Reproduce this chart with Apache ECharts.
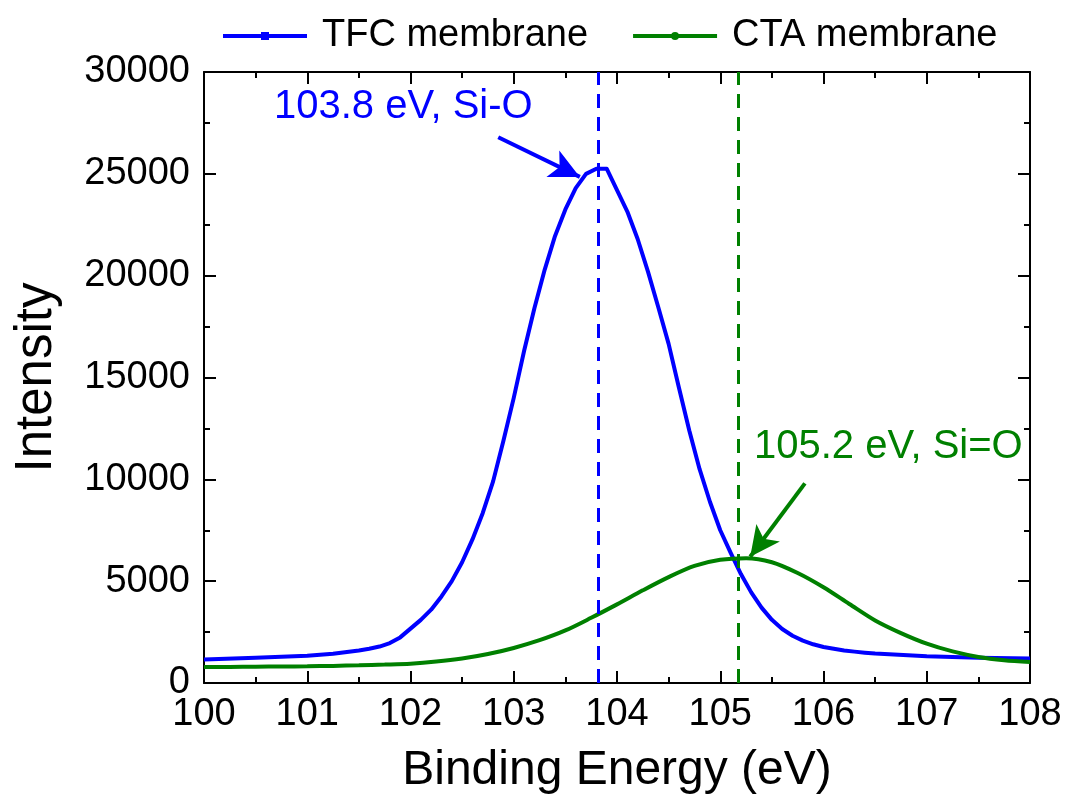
<!DOCTYPE html>
<html lang="en">
<head>
    <meta charset="UTF-8">
    <title>XPS Si 2p</title>
    <script src="https://cdn.jsdelivr.net/npm/echarts@6/dist/echarts.min.js"></script>
    <style>
        *{ padding: 0; margin: 0; }
        #main{ width: 1067px; height: 801px; background: #fff; }
    </style>
</head>
<body>
<div id="main"></div>
<script>
    // binding energy (eV) / intensity
    var tfcX = [100, 100.5, 101, 101.25, 101.5, 101.6, 101.7, 101.8, 101.9, 102, 102.1, 102.2, 102.3, 102.4, 102.5, 102.6, 102.7, 102.8, 102.9, 103, 103.1, 103.2, 103.3, 103.4, 103.5, 103.6, 103.7, 103.8, 103.9, 104, 104.1, 104.2, 104.3, 104.4, 104.5, 104.6, 104.7, 104.8, 104.9, 105, 105.1, 105.2, 105.3, 105.4, 105.5, 105.6, 105.7, 105.8, 105.9, 106, 106.1, 106.2, 106.3, 106.4, 106.5, 107, 107.5, 108];
    var tfcY = [1150, 1240, 1340, 1440, 1600, 1680, 1790, 1960, 2240, 2670, 3100, 3600, 4250, 5000, 5930, 7050, 8350, 9900, 11900, 14000, 16300, 18400, 20300, 21950, 23250, 24300, 25000, 25250, 25250, 24200, 23150, 21800, 20200, 18450, 16650, 14500, 12400, 10500, 8900, 7500, 6400, 5350, 4450, 3700, 3100, 2650, 2320, 2080, 1900, 1770, 1680, 1600, 1540, 1490, 1450, 1310, 1245, 1200];
    var ctaX = [100, 100.25, 100.5, 100.75, 101, 101.25, 101.5, 101.75, 102, 102.25, 102.5, 102.75, 103, 103.25, 103.5, 103.75, 104, 104.25, 104.5, 104.75, 105, 105.25, 105.5, 105.75, 106, 106.25, 106.5, 106.75, 107, 107.25, 107.5, 107.75, 108];
    var ctaY = [785, 790, 800, 810, 820, 840, 870, 905, 950, 1050, 1200, 1420, 1720, 2100, 2580, 3200, 3860, 4550, 5200, 5750, 6050, 6130, 5930, 5400, 4700, 3880, 3070, 2450, 1930, 1550, 1280, 1120, 1030];
    var peakLines = [103.82, 105.17];
    var peakLabels = ['103.8 eV, Si-O', '105.2 eV, Si=O'];
    var xTicks = [100, 101, 102, 103, 104, 105, 106, 107, 108];
    var yTicks = [0, 5000, 10000, 15000, 20000, 25000, 30000];

    function pairs(xs, ys) {
        return xs.map(function (x, i) { return [x, ys[i]]; });
    }

    var FONT = 'Liberation Sans';
    var chart = echarts.init(document.getElementById('main'));

    var frameAxis = {
        axisLine: { show: true, onZero: false, lineStyle: { color: '#000', width: 2 } },
        axisTick: { show: true, inside: true, length: 12, lineStyle: { color: '#000', width: 2 } },
        minorTick: { show: true, splitNumber: 2, length: 6, lineStyle: { color: '#000', width: 2 } },
        splitLine: { show: false }
    };

    chart.setOption({
        backgroundColor: '#ffffff',
        animation: false,
        legend: {
            top: 12,
            left: 216,
            itemWidth: 84,
            itemHeight: 10,
            itemGap: 43,
            lineStyle: { width: 4 },
            textStyle: { fontSize: 38, color: '#000', fontFamily: FONT, padding: [0, 0, 0, 10] },
            data: ['TFC membrane', 'CTA membrane']
        },
        grid: { left: 204, right: 37, top: 72, bottom: 118, containLabel: false, outerBoundsMode: 'none' },
        xAxis: [
            Object.assign({
                type: 'value', min: xTicks[0], max: xTicks[xTicks.length - 1], interval: 1,
                name: 'Binding Energy (eV)', nameLocation: 'middle', nameGap: 64,
                nameTextStyle: { fontSize: 48, color: '#000', fontFamily: FONT },
                axisLabel: { fontSize: 38, color: '#000', margin: 13, fontFamily: FONT }
            }, frameAxis),
            Object.assign({
                type: 'value', position: 'top', min: 100, max: 108, interval: 1,
                axisLabel: { show: false }
            }, frameAxis)
        ],
        yAxis: [
            Object.assign({
                type: 'value', min: yTicks[0], max: yTicks[yTicks.length - 1], interval: 5000,
                name: 'Intensity', nameLocation: 'middle', nameGap: 142,
                nameTextStyle: { fontSize: 51, color: '#000', fontFamily: FONT },
                axisLabel: {
                    fontSize: 38, color: '#000', margin: 14, fontFamily: FONT,
                    formatter: function (v) { return String(v); }
                }
            }, frameAxis),
            Object.assign({
                type: 'value', position: 'right', min: 0, max: 30000, interval: 5000,
                axisLabel: { show: false }
            }, frameAxis)
        ],
        series: [
            {
                name: 'TFC membrane', type: 'line', data: pairs(tfcX, tfcY),
                smooth: false, showSymbol: false, symbol: 'rect', symbolSize: 8,
                itemStyle: { color: '#0000ff' },
                lineStyle: { color: '#0000ff', width: 4, join: 'round' },
                markLine: {
                    silent: true, symbol: ['none', 'none'], label: { show: false },
                    lineStyle: { color: '#0000ff', width: 3, type: [14, 9] },
                    data: [
                        [{ coord: [peakLines[0], 0] }, { coord: [peakLines[0], 30000] }],
                        [{ coord: [102.85, 26800], symbol: 'none' },
                         { coord: [103.64, 24850], symbol: 'arrow', symbolSize: [22, 30], lineStyle: { type: 'solid', width: 4 } }]
                    ]
                }
            },
            {
                name: 'CTA membrane', type: 'line', data: pairs(ctaX, ctaY),
                smooth: 0.3, showSymbol: false, symbol: 'circle', symbolSize: 7,
                itemStyle: { color: '#008000' },
                lineStyle: { color: '#008000', width: 4 },
                markLine: {
                    silent: true, symbol: ['none', 'none'], label: { show: false },
                    lineStyle: { color: '#008000', width: 3, type: [14, 9] },
                    data: [
                        [{ coord: [peakLines[1], 0] }, { coord: [peakLines[1], 30000] }],
                        [{ coord: [105.82, 9800], symbol: 'none' },
                         { coord: [105.29, 6200], symbol: 'arrow', symbolSize: [22, 30], lineStyle: { type: 'solid', width: 4 } }]
                    ]
                }
            }
        ],
        graphic: [
            { type: 'text', left: 274, top: 87, style: { text: peakLabels[0], fill: '#0000ff', font: '40px "Liberation Sans"' } },
            { type: 'text', left: 754, top: 427, style: { text: peakLabels[1], fill: '#008000', font: '40px "Liberation Sans"' } }
        ]
    });
</script>
</body>
</html>
